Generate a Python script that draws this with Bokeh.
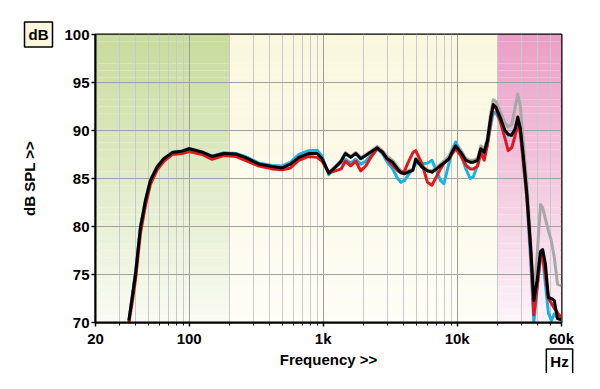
from bokeh.plotting import figure
from bokeh.models import Range1d, FixedTicker, Label
from bokeh.embed import file_html
from bokeh.resources import INLINE

# ---------------- data ----------------
freq_hz = [35.5, 37.5, 39.8, 43.3, 47.2, 51.4, 57.7, 64.7, 74.7, 88.6,
           100, 125, 148, 181, 222, 262, 332, 416, 494, 570,
           658, 780, 902, 982, 1100, 1236, 1360, 1466, 1602, 1752,
           1904, 2078, 2268, 2530, 2760, 3012, 3290, 3592, 3800, 4050,
           4280, 4670, 4900, 5440, 6000, 6480, 7000, 7500, 7950, 8660,
           9200, 9740, 10600, 11600, 12500, 13200, 14200, 15000, 15900, 16800,
           17800, 18600, 19500, 20900, 22700, 24000, 25500, 27100, 28300, 29600,
           31000, 33100, 35300, 37300, 39500, 41800, 43400, 45500, 47900, 50400,
           53000, 56000, 60000]

spl_grey = [70.3, 72.7, 75.3, 80.0, 82.8, 84.9, 86.3, 87.1, 87.75, 87.9,
            88.15, 87.8, 87.35, 87.65, 87.6, 87.25, 86.55, 86.3, 86.15, 86.55,
            87.3, 87.7, 87.7, 87.1, 85.6, 86.3, 86.9, 87.7, 87.3, 87.7,
            87.2, 87.5, 87.85, 88.35, 87.9, 87.3, 86.9, 86.2, 85.8, 85.7,
            85.8, 86.0, 87.1, 86.4, 85.9, 85.8, 86.1, 86.5, 86.8, 87.3,
            88.1, 88.7, 88.0, 87.1, 86.9, 86.9, 87.1, 88.4, 88.0, 89.2,
            91.8, 93.2, 93.0, 92.0, 90.8, 90.4, 90.6, 92.5, 93.8, 92.5,
            89.0, 84.5, 78.5, 73.0, 77.0, 82.3, 82.0, 80.8, 79.6, 78.5,
            76.8, 74.0, 73.8]

spl_cyan = [70.2, 72.5, 75.1, 79.9, 82.7, 84.8, 86.2, 87.05, 87.7, 87.85,
            88.1, 87.75, 87.3, 87.65, 87.6, 87.3, 86.6, 86.35, 86.3, 86.7,
            87.5, 87.9, 87.95, 87.3, 85.4, 86.2, 86.6, 87.0, 86.6, 87.0,
            86.5, 86.8, 87.4, 88.1, 87.6, 86.7, 86.0, 85.0, 84.6, 84.8,
            85.3, 86.0, 86.6, 86.5, 86.6, 86.9, 85.8, 84.8, 84.45, 86.5,
            88.0, 88.8, 87.6, 86.0, 85.0, 85.2, 86.4, 87.6, 87.6, 88.5,
            90.5, 91.9, 91.8, 91.0, 90.0, 89.5, 89.5, 90.3, 90.9, 89.8,
            87.0, 82.8, 76.5, 70.0, 73.5, 77.0, 76.8, 74.0, 71.0, 70.2,
            70.9, 70.5, 70.2]

spl_red = [70.0, 72.0, 74.5, 79.3, 82.2, 84.4, 85.9, 86.8, 87.5, 87.6,
           87.8, 87.5, 87.0, 87.4, 87.3, 86.9, 86.3, 86.0, 85.9, 86.1,
           86.9, 87.3, 87.2, 86.8, 85.6, 85.8, 86.0, 86.8, 86.3, 86.8,
           85.8, 86.3, 87.2, 88.1, 87.8, 87.0, 86.4, 85.8, 85.6, 85.8,
           86.6, 87.7, 87.9, 86.6, 84.6, 84.3, 85.2, 86.0, 86.6, 87.0,
           87.6, 88.1, 87.4, 86.4, 86.0, 86.0, 86.3, 87.7, 86.9, 88.5,
           91.0, 92.6, 92.3, 91.0, 89.2, 87.9, 88.2, 89.5, 90.6, 89.7,
           87.0, 83.0, 77.5, 70.8, 73.8, 76.8, 77.0, 75.0, 72.5, 72.0,
           71.5, 71.0, 70.5]

spl_black = [70.2, 72.5, 75.1, 79.9, 82.7, 84.8, 86.2, 87.05, 87.7, 87.85,
             88.1, 87.75, 87.3, 87.6, 87.55, 87.2, 86.5, 86.25, 86.1, 86.5,
             87.2, 87.6, 87.6, 87.05, 85.55, 86.2, 86.8, 87.6, 87.2, 87.6,
             87.05, 87.4, 87.75, 88.2, 87.75, 87.05, 86.7, 86.0, 85.6, 85.5,
             85.65, 85.85, 87.0, 86.2, 85.8, 85.66, 86.0, 86.35, 86.6, 87.05,
             87.8, 88.4, 87.75, 86.9, 86.7, 86.7, 86.9, 88.1, 87.75, 88.96,
             91.4, 92.7, 92.4, 91.4, 90.0, 89.6, 89.5, 90.2, 91.4, 90.2,
             87.6, 83.4, 77.85, 72.3, 74.4, 77.4, 77.6, 76.1, 72.6, 72.5,
             72.3, 70.4, 70.3]

x_ticks = [20, 100, 1000, 10000, 60000]
x_tick_labels = ["20", "100", "1k", "10k", "60k"]
x_minor_ticks = [30, 40, 50, 60, 70, 80, 90,
                 200, 300, 400, 500, 600, 700, 800, 900,
                 2000, 3000, 4000, 5000, 6000, 7000, 8000, 9000,
                 20000, 30000, 40000, 50000]
y_ticks = [70, 75, 80, 85, 90, 95, 100]

# frequency bands of the background: (low Hz, high Hz, top colour, bottom colour)
band_edges = [(20, 200), (200, 20000), (20000, 60000)]
band_top_rgb = [(199, 220, 156), (250, 247, 222), (234, 158, 198)]
band_bottom_rgb = [(250, 251, 244), (254, 253, 246), (252, 244, 248)]

assert len(freq_hz) == len(spl_grey) == len(spl_cyan) == len(spl_red) == len(spl_black)

FONT = "Liberation Sans"

p = figure(width=587, height=373, x_axis_type="log",
           x_range=Range1d(20, 60000), y_range=Range1d(70, 100),
           output_backend="svg", toolbar_location=None,
           min_border_left=95, min_border_right=23,
           min_border_top=34, min_border_bottom=51)

p.background_fill_color = "white"
p.border_fill_color = "white"
p.outline_line_color = "black"
p.outline_line_width = 2

# gradient background bands
n_strips = 40
lefts, rights, bottoms, tops, colors = [], [], [], [], []
for (lo, hi), c0, c1 in zip(band_edges, band_top_rgb, band_bottom_rgb):
    for i in range(n_strips):
        t = (i + 0.5) / n_strips
        top = 100 - 30 * i / n_strips
        bot = 100 - 30 * (i + 1) / n_strips
        rgb = tuple(int(round(a + (b - a) * t)) for a, b in zip(c0, c1))
        lefts.append(lo); rights.append(hi); bottoms.append(bot); tops.append(top)
        colors.append("#%02x%02x%02x" % rgb)
p.quad(left=lefts, right=rights, bottom=bottoms, top=tops,
       fill_color=colors, line_color=None, level="image")

# axes / grid
xt = FixedTicker(ticks=x_ticks, minor_ticks=x_minor_ticks)
p.xaxis.ticker = xt
p.xgrid.ticker = xt
p.xaxis.major_label_overrides = dict(zip(x_ticks, x_tick_labels))
yt = FixedTicker(ticks=y_ticks)
p.yaxis.ticker = yt
p.ygrid.ticker = yt

p.xgrid.grid_line_color = "#9c9c9c"
p.xgrid.grid_line_width = 1
p.xgrid.minor_grid_line_color = "#c9c9cc"
p.xgrid.minor_grid_line_width = 1
p.ygrid.grid_line_color = "#a0a0a0"
p.ygrid.grid_line_width = 1

for ax in (p.xaxis[0], p.yaxis[0]):
    ax.axis_line_color = "black"
    ax.axis_line_width = 2
    ax.major_tick_line_color = "black"
    ax.major_tick_line_width = 1.5
    ax.major_tick_in = 0
    ax.major_tick_out = 4
    ax.major_label_text_font = FONT
    ax.major_label_text_font_style = "bold"
    ax.major_label_text_font_size = "15px"
    ax.major_label_text_color = "black"
    ax.axis_label_text_font = FONT
    ax.axis_label_text_font_style = "bold"
    ax.axis_label_text_font_size = "15px"
    ax.axis_label_text_color = "black"

p.xaxis.minor_tick_line_color = "black"
p.xaxis.minor_tick_line_width = 1
p.xaxis.minor_tick_in = 0
p.xaxis.minor_tick_out = 3
p.yaxis.minor_tick_line_color = None
p.xaxis.major_label_standoff = 3
p.yaxis.major_label_standoff = 2

p.xaxis.axis_label = "Frequency >>"
p.xaxis.axis_label_standoff = 1
p.yaxis.axis_label = "dB SPL >>"
p.yaxis.axis_label_standoff = 23

# response curves
p.line(freq_hz, spl_grey, line_color="#a8a8a8", line_width=3, line_join="round")
p.line(freq_hz, spl_cyan, line_color="#1ab2e6", line_width=3, line_join="round")
p.line(freq_hz, spl_red, line_color="#e3161c", line_width=3, line_join="round")
p.line(freq_hz, spl_black, line_color="black", line_width=3, line_join="round")

# unit boxes, placed in side panels so they are not clipped to the frame
p.add_layout(Label(x=-57, y=0, x_units="screen", y_units="screen", text="dB",
                   text_align="center", text_baseline="middle", text_color="black",
                   text_font=FONT, text_font_style="bold", text_font_size="15px",
                   background_fill_color="#fbf6dc", border_line_color="black",
                   border_line_width=1.5, padding=4), "above")
p.add_layout(Label(x=-2, y=-39, x_units="screen", y_units="screen", text="Hz",
                   text_align="center", text_baseline="middle", text_color="black",
                   text_font=FONT, text_font_style="bold", text_font_size="15px",
                   background_fill_color="white", border_line_color="black",
                   border_line_width=1.5, padding=4), "right")

open("out.html", "w").write(file_html(p, INLINE))
